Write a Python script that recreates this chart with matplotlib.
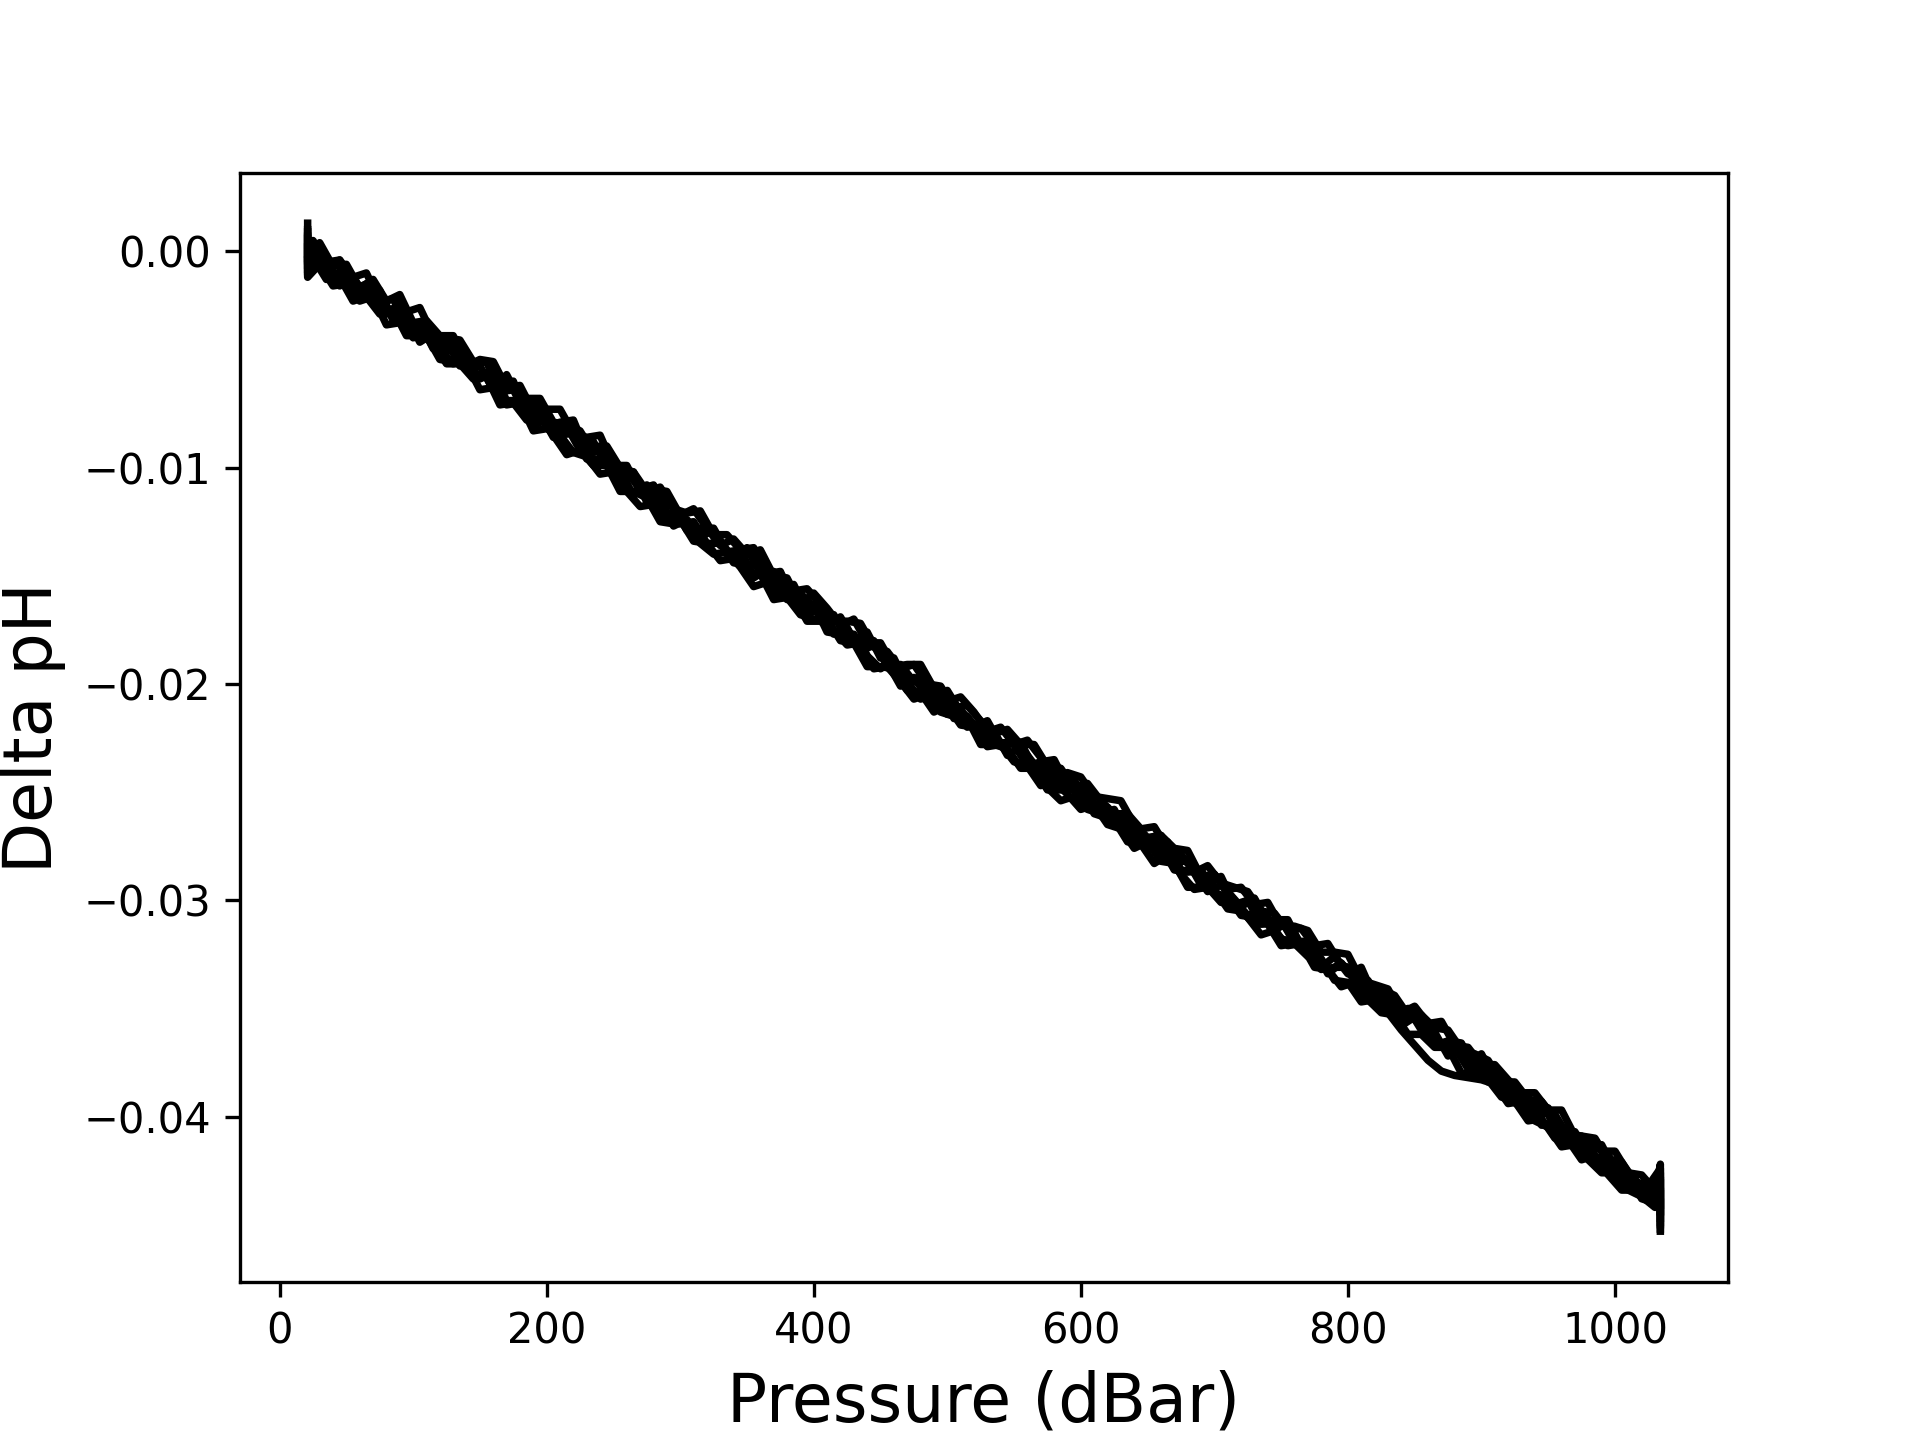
import numpy as np
import matplotlib
matplotlib.use("Agg")
import matplotlib.pyplot as plt

# pressure samples (dBar); half the profiles were sampled on a grid offset by 5 dBar
pressure_a = [21, 21,
              30, 40, 50, 60, 70, 80, 90, 100, 110, 120,
              130, 140, 150, 160, 170, 180, 190, 200, 210, 220,
              230, 240, 250, 260, 270, 280, 290, 300, 310, 320,
              330, 340, 350, 360, 370, 380, 390, 400, 410, 420,
              430, 440, 450, 460, 470, 480, 490, 500, 510, 520,
              530, 540, 550, 560, 570, 580, 590, 600, 610, 620,
              630, 640, 650, 660, 670, 680, 690, 700, 710, 720,
              730, 740, 750, 760, 770, 780, 790, 800, 810, 820,
              830, 840, 850, 860, 870, 880, 890, 900, 910, 920,
              930, 940, 950, 960, 970, 980, 990, 1000, 1010, 1020,
              1030, 1034, 1034]
pressure_b = [21, 21,
              25, 35, 45, 55, 65, 75, 85, 95, 105, 115,
              125, 135, 145, 155, 165, 175, 185, 195, 205, 215,
              225, 235, 245, 255, 265, 275, 285, 295, 305, 315,
              325, 335, 345, 355, 365, 375, 385, 395, 405, 415,
              425, 435, 445, 455, 465, 475, 485, 495, 505, 515,
              525, 535, 545, 555, 565, 575, 585, 595, 605, 615,
              625, 635, 645, 655, 665, 675, 685, 695, 705, 715,
              725, 735, 745, 755, 765, 775, 785, 795, 805, 815,
              825, 835, 845, 855, 865, 875, 885, 895, 905, 915,
              925, 935, 945, 955, 965, 975, 985, 995, 1005, 1015,
              1025, 1034, 1034]

# delta pH of each profile, in units of 1e-4 pH
profile_1 = [9, -3,
             4, -7, -6, -17, -13, -23, -20, -33, -32, -39,
             -39, -53, -50, -51, -63, -62, -74, -73, -73, -84,
             -86, -85, -99, -99, -111, -110, -111, -122, -119, -128,
             -136, -133, -140, -138, -150, -151, -163, -158, -165, -173,
             -170, -181, -181, -192, -191, -191, -202, -208, -206, -213,
             -222, -220, -228, -226, -234, -243, -241, -243, -252, -253,
             -254, -265, -271, -270, -276, -277, -289, -288, -295, -294,
             -302, -301, -312, -312, -314, -324, -324, -325, -337, -339,
             -341, -352, -349, -357, -356, -367, -368, -376, -376, -383,
             -389, -389, -397, -397, -409, -410, -416, -416, -426, -427,
             -434, -426, -444]
profile_2 = [2, -8,
             -3, -13, -12, -23, -21, -29, -27, -39, -39, -42,
             -52, -52, -59, -58, -71, -70, -78, -77, -85, -94,
             -92, -99, -99, -111, -111, -114, -125, -126, -125, -135,
             -140, -139, -146, -155, -153, -160, -160, -171, -171, -175,
             -182, -181, -193, -192, -199, -207, -205, -213, -215, -216,
             -228, -228, -230, -239, -239, -249, -249, -249, -258, -260,
             -263, -273, -274, -283, -279, -288, -295, -294, -301, -301,
             -308, -316, -314, -321, -320, -331, -332, -340, -338, -346,
             -352, -353, -362, -362, -368, -368, -380, -380, -383, -391,
             -393, -402, -401, -410, -411, -420, -418, -427, -434, -434,
             -439, -433, -452]
profile_3 = [13, -5,
             1, -11, -8, -20, -14, -27, -26, -38, -33, -43,
             -40, -54, -53, -64, -57, -69, -69, -81, -79, -78,
             -93, -90, -104, -102, -110, -108, -121, -121, -133, -127,
             -134, -142, -137, -149, -148, -161, -158, -165, -173, -169,
             -180, -176, -188, -188, -201, -196, -207, -203, -213, -220,
             -217, -228, -226, -238, -236, -235, -247, -247, -259, -257,
             -266, -264, -272, -270, -282, -282, -293, -288, -296, -303,
             -299, -310, -309, -320, -319, -331, -326, -334, -331, -345,
             -344, -356, -351, -360, -367, -365, -375, -371, -383, -384,
             -395, -394, -396, -408, -407, -418, -413, -425, -426, -436,
             -436, -422, -441]
profile_4 = [6, -10,
             -6, -3, -16, -12, -21, -18, -32, -30, -42, -38,
             -46, -45, -58, -56, -65, -60, -75, -75, -86, -81,
             -88, -98, -95, -105, -102, -116, -114, -127, -124, -132,
             -129, -140, -141, -151, -147, -156, -154, -167, -166, -177,
             -174, -185, -182, -190, -201, -197, -206, -203, -216, -215,
             -223, -222, -233, -229, -237, -248, -254, -252, -251, -260,
             -258, -270, -269, -276, -273, -286, -287, -296, -293, -300,
             -307, -305, -314, -310, -321, -323, -334, -329, -337, -345,
             -343, -353, -350, -360, -361, -372, -368, -376, -384, -383,
             -392, -391, -404, -403, -410, -409, -421, -422, -429, -429,
             -437, -429, -449]
profile_5 = [-1, -12,
             -6, -16, -15, -23, -21, -34, -33, -39, -39, -50,
             -51, -52, -64, -63, -71, -70, -83, -82, -85, -93,
             -95, -103, -102, -111, -118, -117, -123, -124, -134, -135,
             -143, -142, -149, -149, -161, -160, -168, -170, -170, -180,
             -181, -192, -192, -193, -203, -204, -213, -210, -219, -220,
             -229, -228, -236, -238, -247, -245, -251, -258, -256, -265,
             -267, -276, -273, -282, -283, -294, -294, -295, -304, -305,
             -311, -311, -321, -320, -326, -327, -337, -338, -347, -346,
             -352, -360, -367, -374, -379, -381, -382, -383, -385, -394,
             -393, -402, -405, -414, -413, -420, -426, -426, -434, -437,
             -442, -438, -453]
profile_6 = [10, 1,
             5, -5, -4, -12, -10, -23, -22, -28, -26, -39,
             -40, -41, -51, -51, -63, -61, -68, -68, -79, -80,
             -83, -93, -90, -100, -102, -111, -109, -119, -121, -120,
             -131, -131, -138, -137, -150, -149, -157, -156, -163, -171,
             -171, -172, -183, -185, -193, -191, -200, -201, -211, -210,
             -217, -223, -221, -228, -228, -238, -239, -248, -246, -254,
             -260, -260, -267, -266, -276, -279, -287, -284, -292, -294,
             -296, -305, -306, -314, -313, -321, -320, -330, -332, -341,
             -341, -344, -353, -353, -359, -360, -369, -371, -374, -384,
             -384, -392, -393, -401, -408, -409, -410, -420, -421, -430,
             -432, -424, -444]
profile_7 = [-4, -11,
             -2, -13, -11, -22, -20, -29, -26, -40, -38, -45,
             -52, -50, -59, -56, -69, -69, -81, -77, -85, -84,
             -96, -96, -97, -111, -111, -113, -125, -126, -125, -135,
             -135, -144, -145, -144, -158, -157, -165, -163, -176, -177,
             -177, -187, -193, -189, -199, -207, -205, -214, -212, -219,
             -228, -227, -228, -238, -238, -247, -248, -247, -260, -262,
             -261, -273, -275, -275, -286, -287, -286, -297, -298, -307,
             -308, -308, -318, -319, -319, -332, -331, -331, -342, -345,
             -348, -358, -354, -364, -367, -368, -378, -379, -380, -391,
             -396, -397, -399, -412, -412, -414, -423, -427, -427, -438,
             -440, -434, -450]
profile_8 = [7, -6,
             2, -8, -4, -18, -15, -24, -22, -34, -33, -45,
             -41, -53, -52, -51, -65, -64, -76, -71, -81, -81,
             -92, -88, -99, -101, -113, -108, -116, -118, -129, -128,
             -128, -139, -138, -150, -149, -148, -162, -161, -168, -168,
             -180, -179, -180, -192, -191, -199, -197, -209, -210, -220,
             -218, -228, -227, -227, -239, -237, -245, -244, -257, -255,
             -262, -261, -273, -272, -282, -279, -286, -293, -289, -302,
             -300, -311, -309, -309, -321, -323, -333, -329, -336, -337,
             -347, -346, -355, -355, -367, -365, -366, -378, -379, -387,
             -386, -397, -397, -399, -409, -410, -419, -418, -426, -433,
             -435, -428, -447]

profiles = [(pressure_a, profile_1), (pressure_b, profile_2),
            (pressure_a, profile_3), (pressure_b, profile_4),
            (pressure_a, profile_5), (pressure_b, profile_6),
            (pressure_a, profile_7), (pressure_b, profile_8)]

fig, ax = plt.subplots(figsize=(6.4, 4.8), dpi=300)

for pres, prof in profiles:
    ax.plot(pres, np.array(prof) / 1e4, color='black', linewidth=1.8)

ax.set_xlabel('Pressure (dBar)', fontsize=16)
ax.set_ylabel('Delta pH', fontsize=16)

fig.savefig('out.png', dpi=300)
